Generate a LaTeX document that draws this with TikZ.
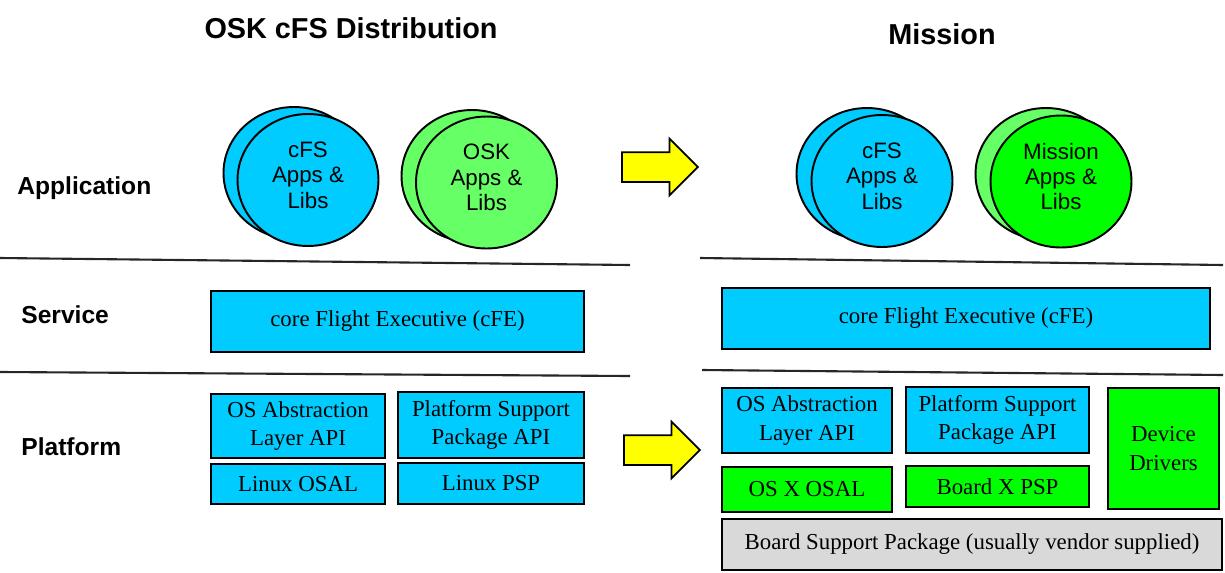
\documentclass[tikz,border=0pt]{standalone}
\usepackage{fontspec}
\setmainfont{Liberation Serif}
\setsansfont{Liberation Sans}
\usepackage{tikz}
\usetikzlibrary{shapes.geometric, shapes.arrows}

\definecolor{cfsblue}{HTML}{00CCFF}
\definecolor{oskgreen}{HTML}{66FF66}
\definecolor{missiongreen}{HTML}{00FF00}
\definecolor{bspgray}{HTML}{D9D9D9}
\definecolor{arrowyellow}{HTML}{FFFF00}

\tikzset{
    layerbox/.style={draw, line width=1.1pt, align=center, inner sep=0pt,
        font=\fontsize{13}{16}\selectfont},
    appcircle/.style={draw, ellipse, line width=1.1pt, inner sep=0pt,
        minimum width=2.82cm, minimum height=2.64cm},
    applabel/.style={align=center, yshift=0.1cm,
        font=\sffamily\fontsize{12.7}{14.5}\selectfont},
    bigarrow/.style={draw, single arrow, fill=arrowyellow, line width=1pt,
        minimum height=1.52cm, inner xsep=0pt, inner ysep=0.28cm,
        single arrow head extend=0.27cm, single arrow head indent=0pt,
        anchor=tail, shape border rotate=0},
    title/.style={font=\sffamily\bfseries\fontsize{16.4}{19}\selectfont, inner sep=0pt},
    layername/.style={font=\sffamily\bfseries\fontsize{14}{17}\selectfont, inner sep=0pt, anchor=west},
    sepline/.style={line width=1.2pt, black!85}
}

\begin{document}
\begin{tikzpicture}[x=0.02cm, y=-0.02cm]
        \useasboundingbox (0,0) rectangle (1225,572);

        \node[title] (distTitle) at (351,28) {OSK cFS Distribution};
        \node[title] (missionTitle) at (942,34) {Mission};

        \node[layername] (application) at (17,188) {Application};
        \node[layername] (service) at (21,315) {Service};
        \node[layername] (platform) at (21,447) {Platform};

        \draw[sepline] (0,258) -- (630,265);
        \draw[sepline] (0,372) -- (630,376);
        \draw[sepline] (700,258) -- (1223,265);
        \draw[sepline] (702,370) -- (1223,375);

        % application layer
        \node[appcircle, fill=cfsblue] (cfsBackL) at (294,173) {};
        \node[appcircle, fill=cfsblue, label={[applabel]center:cFS\\Apps \&\\Libs}] (cfsL) at (308,180) {};
        \node[appcircle, fill=oskgreen] (oskBack) at (472,176) {};
        \node[appcircle, fill=oskgreen, label={[applabel]center:OSK\\Apps \&\\Libs}] (osk) at (486.5,182.5) {};

        \node[appcircle, fill=cfsblue] (cfsBackR) at (867,174) {};
        \node[appcircle, fill=cfsblue, label={[applabel]center:cFS\\Apps \&\\Libs}] (cfsR) at (882,181) {};
        \node[appcircle, fill=oskgreen] (missionBack) at (1046,174) {};
        \node[appcircle, fill=missiongreen, label={[applabel]center:Mission\\Apps \&\\Libs}] (mission) at (1061,181.5) {};

        \node[bigarrow] (arrowTop) at (621,167) {};
        \node[bigarrow] (arrowBottom) at (623,450) {};

        % service layer
        \node[layerbox, fill=cfsblue, minimum width=7.46cm, minimum height=1.22cm] (cfeL) at (397.5,321.5) {core Flight Executive (cFE)};
        \node[layerbox, fill=cfsblue, minimum width=9.76cm, minimum height=1.22cm] (cfeR) at (966,318.5) {core Flight Executive (cFE)};

        % platform layer
        \node[layerbox, fill=cfsblue, minimum width=3.48cm, minimum height=1.28cm] (osalApiL) at (298,426) {OS Abstraction\\Layer API};
        \node[layerbox, fill=cfsblue, minimum width=3.72cm, minimum height=1.32cm] (pspApiL) at (491,425) {Platform Support\\Package API};
        \node[layerbox, fill=cfsblue, minimum width=3.48cm, minimum height=0.8cm] (linuxOsal) at (298,484) {Linux OSAL};
        \node[layerbox, fill=cfsblue, minimum width=3.72cm, minimum height=0.82cm] (linuxPsp) at (491,483.5) {Linux PSP};

        \node[layerbox, fill=cfsblue, minimum width=3.4cm, minimum height=1.3cm] (osalApiR) at (807,420.5) {OS Abstraction\\Layer API};
        \node[layerbox, fill=cfsblue, minimum width=3.66cm, minimum height=1.32cm] (pspApiR) at (997.5,420) {Platform Support\\Package API};
        \node[layerbox, fill=missiongreen, minimum width=3.4cm, minimum height=0.9cm] (osxOsal) at (807,489.5) {OS X OSAL};
        \node[layerbox, fill=missiongreen, minimum width=3.66cm, minimum height=0.82cm] (boardPsp) at (997.5,486.5) {Board X PSP};
        \node[layerbox, fill=missiongreen, minimum width=2.22cm, minimum height=2.42cm] (drivers) at (1163.5,448.5) {Device\\Drivers};
        \node[layerbox, fill=bspgray, minimum width=10cm, minimum height=1.02cm] (bsp) at (972,544.5) {Board Support Package (usually vendor supplied)};
    \end{tikzpicture}
\end{document}
